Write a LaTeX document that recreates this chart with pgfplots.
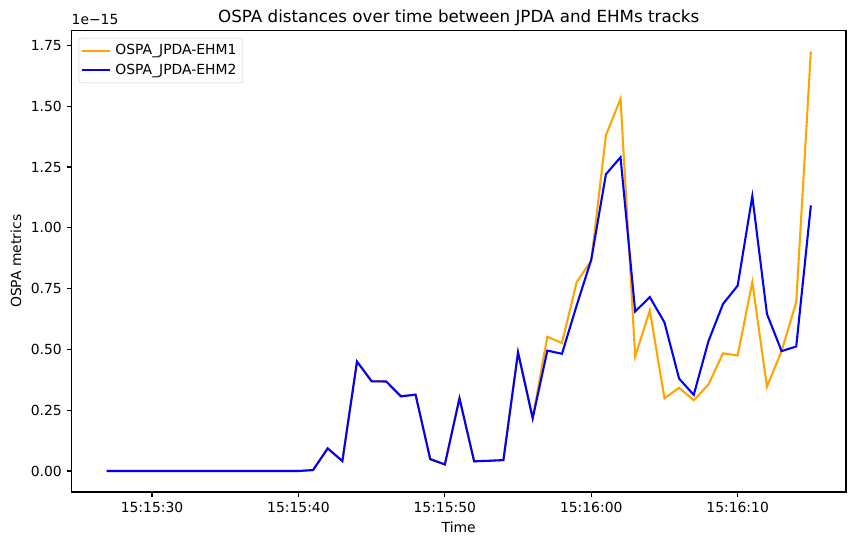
\documentclass[border=0pt]{standalone}
\usepackage{fontspec}
\setmainfont{DejaVu Sans}
\usepackage{pgfplots}
\usepackage{pgfplotstable}
\pgfplotsset{compat=1.18}
\definecolor{mplorange}{HTML}{FFA500}
\definecolor{mplblue}{HTML}{0000FF}

% OSPA distances (units of 1e-15), time in seconds after 15:15:00
\pgfplotstableread{
t    ehm1   ehm2
26.9 0      0
28   0      0
29   0      0
30   0      0
31   0      0
32   0      0
33   0      0
34   0      0
35   0      0
36   0      0
37   0      0
38   0      0
39   0      0
40   0      0
41   0.004  0.004
42   0.093  0.093
43   0.041  0.041
44   0.450  0.450
45   0.369  0.369
46   0.368  0.368
47   0.307  0.307
48   0.314  0.314
49   0.049  0.049
50   0.027  0.027
51   0.299  0.299
52   0.040  0.040
53   0.042  0.042
54   0.045  0.045
55   0.488  0.488
56   0.217  0.217
57   0.552  0.495
58   0.526  0.482
59   0.776  0.680
60   0.865  0.869
61   1.380  1.220
62   1.530  1.290
63   0.471  0.656
64   0.660  0.715
65   0.299  0.611
66   0.342  0.380
67   0.291  0.313
68   0.355  0.533
69   0.484  0.687
70   0.475  0.762
71   0.777  1.130
72   0.346  0.646
73   0.493  0.493
74   0.694  0.512
75   1.725  1.092
}\ospadata

\begin{document}
\fontsize{13.9bp}{16.7bp}\selectfont
\begin{tikzpicture}
\path[use as bounding box] (0,0) rectangle (855bp,546bp);
\begin{axis}[
  at={(71.5bp,54bp)}, anchor=south west,
  scale only axis, width=774.5bp, height=461.5bp,
  xmin=24.5, xmax=77.4, ymin=-0.08625, ymax=1.81125,
  axis line style={line width=1.1bp},
  every tick/.style={black, line width=1.1bp},
  major tick length=4.9bp,
  tick align=outside, tick pos=left,
  xtick={30,40,50,60,70},
  xticklabels={15:15:30,15:15:40,15:15:50,15:16:00,15:16:10},
  ytick={0,0.25,0.5,0.75,1,1.25,1.5,1.75},
  yticklabel style={/pgf/number format/.cd, fixed, fixed zerofill, precision=2},
  /pgf/number format/assume math mode=true,
  ticklabel style={font=\fontsize{13.9bp}{16.7bp}\selectfont},
  xlabel={Time}, ylabel={OSPA metrics},
  label style={font=\fontsize{13.9bp}{16.7bp}\selectfont},
  title={OSPA distances over time between JPDA and EHMs tracks},
  title style={font=\fontsize{16.7bp}{20bp}\selectfont, yshift=-6bp},
  legend style={at={(0.0093,0.984)}, anchor=north west,
    draw=black!20, rounded corners=2.5bp, fill=white, fill opacity=0.8, text opacity=1,
    font=\fontsize{13.9bp}{16.7bp}\selectfont, inner xsep=2bp, inner ysep=3bp,
    nodes={inner xsep=4.5bp, inner ysep=3.5bp}},
  legend cell align=left,
  legend image code/.code={\draw[#1] (0bp,0bp) -- (28bp,0bp);},
]
\addplot[mplorange, line width=2.08bp] table[x=t, y=ehm1] {\ospadata};
\addlegendentry{OSPA\_JPDA-EHM1}
\addplot[mplblue, line width=2.08bp] table[x=t, y=ehm2] {\ospadata};
\addlegendentry{OSPA\_JPDA-EHM2}
\end{axis}
\node[anchor=base west, inner sep=0pt] at (71.5bp,521bp) {1e−15};
\end{tikzpicture}
\end{document}
